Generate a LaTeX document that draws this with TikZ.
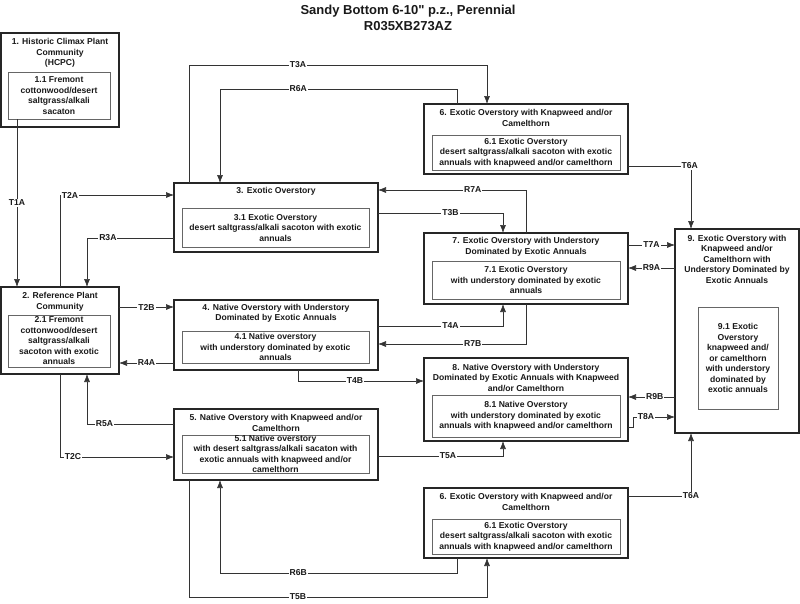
\documentclass[tikz,border=0pt]{standalone}
\usepackage{fontspec}
\setmainfont{Liberation Sans}
\newfontfamily\plainsans{Liberation Sans}
\usetikzlibrary{shapes.misc, arrows.meta, calc}

\begin{document}
\begin{tikzpicture}[x=1pt, y=-1pt, every node/.style={font=\fontsize{8.6}{10.5}\selectfont\bfseries, text=black!90}]
%
% Sandy Bottom state-and-transition model
% boxes at pixel coordinates, y runs down
%
\tikzstyle{state} = [rectangle, draw=black!85, line width=1.2pt, outer sep=0pt, inner sep=0pt]
\tikzstyle{phase} = [rectangle, draw=black!60, line width=0.6pt, outer sep=0pt, inner sep=0pt, align=center]
\tikzstyle{heading} = [align=center, inner sep=0pt]
\tikzstyle{arrow} = [draw=black!80, line width=0.6pt, ->, >={Latex[length=8pt,width=6pt]}]
\tikzstyle{lbl} = [fill=white, inner sep=1pt]
\useasboundingbox (0,0) rectangle (800,603);

% Title
\node (title) [heading, font=\plainsans\fontsize{13}{16}\selectfont\bfseries] at (408,18) {Sandy Bottom 6-10" p.z., Perennial\\R035XB273AZ};

% States
\node (s1) [state, minimum width=118pt, minimum height=94pt] at (60,80) {};
\node (s1t) [heading] at (60,53) {1. Historic Climax Plant\\Community\\(HCPC)};
\node (s11) [phase, minimum width=102pt, minimum height=47pt] at (59,95.5) {1.1 Fremont\\cottonwood/desert\\saltgrass/alkali\\sacaton};

\node (s2) [state, minimum width=118pt, minimum height=87pt] at (60,330.5) {};
\node (s2t) [heading] at (60,302) {2. Reference Plant\\Community};
\node (s21) [phase, minimum width=102pt, minimum height=52pt] at (59,341) {2.1 Fremont\\cottonwood/desert\\saltgrass/alkali\\sacoton with exotic\\annuals};

\node (s3) [state, minimum width=204pt, minimum height=69pt] at (276,217.5) {};
\node (s3t) [heading] at (276,191) {3. Exotic Overstory};
\node (s31) [phase, minimum width=187pt, minimum height=39pt] at (275.5,227.5) {3.1 Exotic Overstory\\desert saltgrass/alkali sacoton with exotic\\annuals};

\node (s4) [state, minimum width=204pt, minimum height=70pt] at (276,335) {};
\node (s4t) [heading] at (276,313.5) {4. Native Overstory with Understory\\Dominated by Exotic Annuals};
\node (s41) [phase, minimum width=187pt, minimum height=32pt] at (275.5,347) {4.1 Native overstory\\with understory dominated by exotic\\annuals};

\node (s5) [state, minimum width=204pt, minimum height=71pt] at (276,444.5) {};
\node (s5t) [heading] at (276,423) {5. Native Overstory with Knapweed and/or\\Camelthorn};
\node (s51) [phase, minimum width=187pt, minimum height=38pt] at (275.5,454) {5.1 Native overstory\\with desert saltgrass/alkali sacaton with\\exotic annuals with knapweed and/or\\camelthorn};

\node (s6a) [state, minimum width=204pt, minimum height=70pt] at (526,139) {};
\node (s6at) [heading] at (526,118) {6. Exotic Overstory with Knapweed and/or\\Camelthorn};
\node (s6a1) [phase, minimum width=188pt, minimum height=35pt] at (526,152.5) {6.1 Exotic Overstory\\desert saltgrass/alkali sacoton with exotic\\annuals with knapweed and/or camelthorn};

\node (s7) [state, minimum width=204pt, minimum height=71pt] at (526,268.5) {};
\node (s7t) [heading] at (526,247) {7. Exotic Overstory with Understory\\Dominated by Exotic Annuals};
\node (s71) [phase, minimum width=188pt, minimum height=38pt] at (526,280) {7.1 Exotic Overstory\\with understory dominated by exotic\\annuals};

\node (s8) [state, minimum width=204pt, minimum height=83pt] at (526,399.5) {};
\node (s8t) [heading] at (526,377.5) {8. Native Overstory with Understory\\Dominated by Exotic Annuals with Knapweed\\and/or Camelthorn};
\node (s81) [phase, minimum width=188pt, minimum height=42pt] at (526,416) {8.1 Native Overstory\\with understory dominated by exotic\\annuals with knapweed and/or camelthorn};

\node (s6b) [state, minimum width=204pt, minimum height=70pt] at (526,523) {};
\node (s6bt) [heading] at (526,502) {6. Exotic Overstory with Knapweed and/or\\Camelthorn};
\node (s6b1) [phase, minimum width=188pt, minimum height=35pt] at (526,536.5) {6.1 Exotic Overstory\\desert saltgrass/alkali sacoton with exotic\\annuals with knapweed and/or camelthorn};

\node (s9) [state, minimum width=124pt, minimum height=204pt] at (737,331) {};
\node (s9t) [heading] at (737,259) {9. Exotic Overstory with\\Knapweed and/or\\Camelthorn with\\Understory Dominated by\\Exotic Annuals};
\node (s91) [phase, minimum width=80pt, minimum height=102pt] at (738,358) {9.1 Exotic\\Overstory\\knapweed and/\\or camelthorn\\with understory\\dominated by\\exotic annuals};

% Transitions and restorations
\draw [arrow] ($(s11.south west)+(9,0)$) -- node[lbl] {T1A} ($(s2.north west)+(16,0)$);
\draw [arrow] ($(s2.north west)+(59,0)$) |- node[lbl, pos=0.544] {T2A} ($(s3.north west)+(0,12)$);
\draw [arrow] ($(s3.west)+(0,20.5)$) -| node[lbl, pos=0.38] {R3A} ($(s2.north west)+(86,0)$);
\draw [arrow] ($(s2.north east)+(0,20)$) -- node[lbl] {T2B} ($(s4.north west)+(0,7)$);
\draw [arrow] ($(s4.south west)+(0,-7)$) -- node[lbl] {R4A} ($(s2.south east)+(0,-11)$);
\draw [arrow] ($(s2.south west)+(59,0)$) |- node[lbl, pos=0.557] {T2C} ($(s5.north west)+(0,48)$);
\draw [arrow] ($(s5.north west)+(0,15)$) -| node[lbl, pos=0.4] {R5A} ($(s2.south west)+(86,0)$);
\draw [arrow] ($(s3.north west)+(15,0)$) -- ++(0,-118) -| node[lbl, pos=0.183] {T3A} ($(s6a.north west)+(63,0)$);
\draw [arrow] ($(s6a.north west)+(33,0)$) -- ++(0,-15) -| node[lbl, pos=0.335] {R6A} ($(s3.north west)+(46,0)$);
\draw [arrow] ($(s6a.east)+(0,27)$) -| node[lbl, pos=0.49] {T6A} ($(s9.north west)+(16,0)$);
\draw [arrow] ($(s7.north west)+(102,0)$) |- node[lbl, pos=0.68] {R7A} ($(s3.north east)+(0,7)$);
\draw [arrow] ($(s3.east)+(0,-4.5)$) -| node[lbl, pos=0.29] {T3B} ($(s7.north west)+(79,0)$);
\draw [arrow] ($(s7.north east)+(0,12)$) -- node[lbl] {T7A} ($(s9.north west)+(0,16)$);
\draw [arrow] ($(s9.north west)+(0,39)$) -- node[lbl] {R9A} ($(s7.east)+(0,-0.5)$);
\draw [arrow] ($(s4.north east)+(0,26)$) -| node[lbl, pos=0.29] {T4A} ($(s7.south west)+(79,0)$);
\draw [arrow] ($(s7.south west)+(102,0)$) |- node[lbl, pos=0.68] {R7B} ($(s4.east)+(0,9)$);
\draw [arrow] ($(s4.south west)+(124,0)$) |- node[lbl, pos=0.726] {T4B} ($(s8.north west)+(0,23)$);
\draw [arrow] ($(s9.south west)+(0,-36)$) -- node[lbl, pos=0.43] {R9B} ($(s8.north east)+(0,39)$);
\draw [arrow] ($(s8.south east)+(0,-14)$) -- ++(5,0) |- node[lbl, pos=0.655] {T8A} ($(s9.south west)+(0,-16)$);
\draw [arrow] ($(s5.east)+(0,11.5)$) -| node[lbl, pos=0.28] {T5A} ($(s8.south west)+(79,0)$);
\draw [arrow] ($(s6b.north east)+(0,8)$) -| node[lbl, pos=0.5] {T6A} ($(s9.south west)+(16,0)$);
\draw [arrow] ($(s6b.south west)+(33,0)$) -- ++(0,15) -| node[lbl, pos=0.335] {R6B} ($(s5.south west)+(46,0)$);
\draw [arrow] ($(s5.south west)+(15,0)$) -- ++(0,117) -| node[lbl, pos=0.183] {T5B} ($(s6b.south west)+(63,0)$);

\end{tikzpicture}
\end{document}
